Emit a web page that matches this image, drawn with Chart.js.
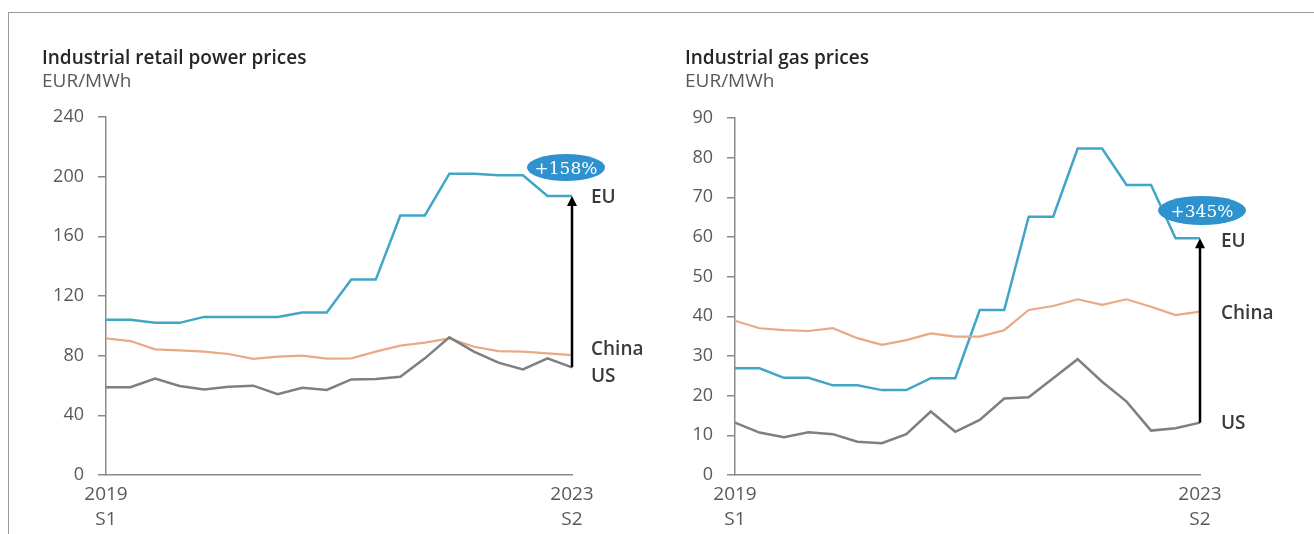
<!DOCTYPE html>
<html>
<head>
<meta charset="utf-8">
<script src="https://cdn.jsdelivr.net/npm/chart.js@4.4.1/dist/chart.umd.min.js"></script>
<style>
  html, body { margin:0; padding:0; background:#fff; }
  body { width:1314px; height:534px; position:relative; overflow:hidden; font-family:'Open Sans', sans-serif; }
  .frame { position:absolute; left:8px; top:12px; width:1320px; height:600px; border-top:1.5px solid #9a9a9a; border-left:1.5px solid #9a9a9a; }
  .panel { position:absolute; top:0; width:657px; height:534px; }
  .title { position:absolute; font-size:19px; line-height:26px; font-weight:600; color:#262626; white-space:nowrap; }
  .unit  { position:absolute; font-size:19px; line-height:26px; color:#595959; white-space:nowrap; }
  .lbl   { position:absolute; font-size:19px; font-weight:600; color:#3a3a3a; transform:translateY(-50%); }
  .bubble { position:absolute; background:#2E92CF; color:#fff; border-radius:50%;
            font-family:'DejaVu Serif', serif; font-size:17px; display:flex; align-items:center; justify-content:center; }
</style>
</head>
<body>
<div class="frame"></div>

<div class="panel" style="left:0"><canvas id="powerChart" width="657" height="534"></canvas></div>
<div class="panel" style="left:657px"><canvas id="gasChart" width="657" height="534"></canvas></div>

<div class="title" style="left:42px;top:44px">Industrial retail power prices</div>
<div class="unit"  style="left:42px;top:67px">EUR/MWh</div>
<div class="title" style="left:685px;top:44px">Industrial gas prices</div>
<div class="unit"  style="left:685px;top:67px">EUR/MWh</div>

<div class="bubble" style="left:527px;top:154px;width:78px;height:27px">+158%</div>
<div class="lbl" style="left:591px;top:196px">EU</div>
<div class="lbl" style="left:591px;top:348px">China</div>
<div class="lbl" style="left:591px;top:375px">US</div>

<div class="bubble" style="left:1158px;top:196px;width:88px;height:29px">+345%</div>
<div class="lbl" style="left:1221px;top:240px">EU</div>
<div class="lbl" style="left:1221px;top:312px">China</div>
<div class="lbl" style="left:1221px;top:422px">US</div>

<script>
// Half-year points, 2019 S1 .. 2023 S2 (as plotted in the source)
const PERIODS = ['2019 S1','','','','','','','','','','','','','','','','','','','2023 S2'];

// Industrial retail power prices, EUR/MWh
const POWER_EU    = [104,104,102,102,106,106,106,106,109,109,131,131,174,174,202,202,201,201,187,187];
const POWER_CHINA = [91.6,89.8,84.2,83.6,82.7,81.1,77.8,79.3,80,78,78.2,82.7,86.7,88.7,91.6,86,83.1,82.7,81.6,80.4];
const POWER_US    = [58.8,58.8,64.6,59.7,57.4,59.2,59.9,54.1,58.5,57,64.1,64.4,65.9,78.2,92.3,82.7,75.3,70.8,78.2,72.2];
const POWER_TICKS = { min:0, max:240, step:40 };

// Industrial gas prices, EUR/MWh
const GAS_EU    = [26.9,26.9,24.5,24.5,22.6,22.6,21.4,21.4,24.4,24.4,41.6,41.6,65.1,65.1,82.3,82.3,73.1,73.1,59.7,59.7];
const GAS_CHINA = [38.9,37,36.5,36.3,37,34.5,32.8,34,35.7,34.9,34.9,36.5,41.6,42.6,44.3,42.9,44.3,42.4,40.3,41.2];
const GAS_US    = [13.2,10.7,9.5,10.8,10.3,8.4,8.0,10.3,16,10.9,13.9,19.3,19.6,24.4,29.2,23.5,18.5,11.2,11.8,13.2];
const GAS_TICKS = { min:0, max:90, step:10 };

const COL_EU = '#41A5C8', COL_CN = '#E9A985', COL_US = '#7f7f7f';
const AXIS = '#8a8a8a', TXT = '#595959';

// black arrow from the US end value up to the EU end value
const gapArrow = {
  id:'gapArrow',
  afterDatasetsDraw(chart) {
    const x = chart.scales.x, y = chart.scales.y;
    const eu = chart.data.datasets[2].data, us = chart.data.datasets[0].data;
    const last = eu.length - 1;
    const px = x.getPixelForValue(last);
    const yTop = y.getPixelForValue(eu[last]);
    const yBot = y.getPixelForValue(us[last]);
    const ctx = chart.ctx;
    ctx.save();
    ctx.strokeStyle = '#000'; ctx.fillStyle = '#000'; ctx.lineWidth = 2.5;
    ctx.beginPath(); ctx.moveTo(px, yBot); ctx.lineTo(px, yTop + 8); ctx.stroke();
    ctx.beginPath(); ctx.moveTo(px, yTop); ctx.lineTo(px - 5, yTop + 10); ctx.lineTo(px + 5, yTop + 10); ctx.closePath(); ctx.fill();
    ctx.restore();
  }
};

function makeChart(id, eu, cn, us, ticks, yWidth, padTop, padRight) {
  const labels = PERIODS.map(p => p ? p.split(' ') : '');
  return new Chart(document.getElementById(id), {
    type:'line',
    data:{
      labels,
      datasets:[
        { label:'US',    data:us, borderColor:COL_US, borderWidth:2.5 },
        { label:'China', data:cn, borderColor:COL_CN, borderWidth:2.2 },
        { label:'EU',    data:eu, borderColor:COL_EU, borderWidth:2.5 },
      ]
    },
    options:{
      responsive:false, animation:false,
      elements:{ point:{ radius:0 }, line:{ tension:0 } },
      layout:{ padding:{ top:padTop, right:padRight, left:0, bottom:0 } },
      plugins:{ legend:{ display:false }, tooltip:{ enabled:false } },
      scales:{
        x:{
          grid:{ display:false, drawTicks:false },
          border:{ display:true, color:AXIS, width:1.5 },
          ticks:{ autoSkip:false, maxRotation:0, padding:8, color:TXT,
                  font:{ family:'Open Sans', size:19, lineHeight:1.27 } },
          afterFit: s => { s.height = 59; }
        },
        y:{
          min:ticks.min, max:ticks.max,
          grid:{ drawOnChartArea:false, tickLength:8, color:AXIS, lineWidth:1.5 },
          border:{ display:true, color:AXIS, width:1.5 },
          ticks:{ stepSize:ticks.step, padding:14, color:TXT, font:{ family:'Open Sans', size:18 } },
          afterFit: s => { s.width = yWidth; }
        }
      }
    },
    plugins:[gapArrow]
  });
}

makeChart('powerChart', POWER_EU, POWER_CHINA, POWER_US, POWER_TICKS, 106, 117, 85);
makeChart('gasChart',   GAS_EU,   GAS_CHINA,   GAS_US,   GAS_TICKS,   78,  118, 114);
</script>
</body>
</html>
